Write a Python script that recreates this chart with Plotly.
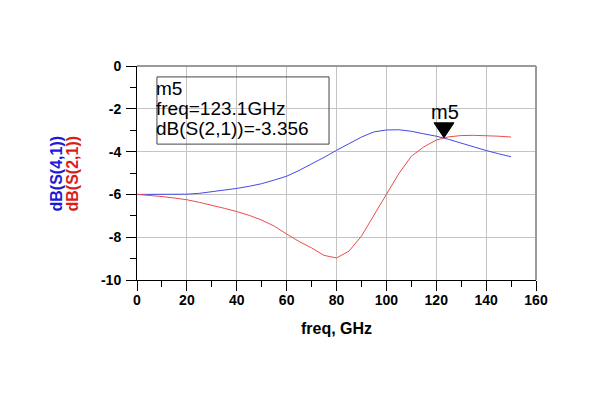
import plotly.graph_objects as go

freq = list(range(0, 155, 5))
s41_db = [-6.00, -6.00, -6.00, -6.00, -5.99, -5.95, -5.88, -5.80, -5.72, -5.62,
          -5.50, -5.33, -5.15, -4.88, -4.58, -4.27, -3.94, -3.62, -3.32, -3.08,
          -2.99, -2.98, -3.05, -3.17, -3.28, -3.43, -3.61, -3.78, -3.95, -4.10, -4.24]
s21_db = [-6.00, -6.04, -6.10, -6.17, -6.25, -6.37, -6.50, -6.65, -6.80, -6.98,
          -7.20, -7.48, -7.85, -8.20, -8.50, -8.85, -8.97, -8.65, -7.95, -7.00,
          -6.00, -5.03, -4.22, -3.78, -3.46, -3.31, -3.25, -3.24, -3.25, -3.28, -3.32]

marker_name = "m5"
marker_freq = 123.1
marker_val = -3.356

x_ticks = [0, 20, 40, 60, 80, 100, 120, 140, 160]
y_ticks = [0, -2, -4, -6, -8, -10]
y_ticklabels = ["0", "-2", "-4", "-6", "-8", "-10"]

BLUE_LINE = "#4848e6"
RED_LINE = "#ee4c4c"
BLUE_TXT = "#1a1ad8"
RED_TXT = "#dc1c1c"
FONT = "Liberation Sans, Arial, sans-serif"

fig = go.Figure()
fig.add_trace(go.Scatter(x=freq, y=s41_db, mode="lines",
                         line=dict(color=BLUE_LINE, width=1), name="dB(S(4,1))"))
fig.add_trace(go.Scatter(x=freq, y=s21_db, mode="lines",
                         line=dict(color=RED_LINE, width=1), name="dB(S(2,1))"))

axis_common = dict(
    showline=True, linecolor="black", linewidth=1,
    showgrid=True, gridcolor="#c4c4c4", gridwidth=1,
    zeroline=False,
    ticks="outside", ticklen=10, tickcolor="black", tickwidth=1,
    tickfont=dict(family=FONT, size=14, color="black", weight="bold"),
)

fig.update_layout(
    width=600, height=395,
    margin=dict(l=129, r=72, t=58, b=123),
    paper_bgcolor="white", plot_bgcolor="white",
    showlegend=False,
    xaxis=dict(range=[0, 160], tickvals=x_ticks, ticklabelstandoff=-3,
               minor=dict(dtick=10, ticklen=6, tickcolor="black", ticks="outside", showgrid=False),
               **axis_common),
    yaxis=dict(range=[-10, 0], tickvals=y_ticks, ticktext=y_ticklabels, ticklabelstandoff=2,
               minor=dict(dtick=1, ticklen=6, tickcolor="black", ticks="outside", showgrid=False),
               **axis_common),
)

# top and right frame (gray)
fig.add_shape(type="line", xref="paper", yref="paper", x0=0, x1=1, y0=1, y1=1,
              line=dict(color="#9a9a9a", width=2))
fig.add_shape(type="line", xref="paper", yref="paper", x0=1, x1=1, y0=0, y1=1,
              line=dict(color="#9a9a9a", width=2))

# marker readout box
fig.add_shape(type="rect", xref="x", yref="y", x0=8.0, x1=77.0, y0=-0.51, y1=-3.65,
              line=dict(color="#444444", width=1), fillcolor="rgba(0,0,0,0)")
box_lines = [marker_name, "freq=%.1fGHz" % marker_freq, "dB(S(2,1))=%.3f" % marker_val]
box_y = [-1.03, -2.0, -2.93]
for txt, yy in zip(box_lines, box_y):
    fig.add_annotation(x=7.4, y=yy, xref="x", yref="y", text=txt, showarrow=False,
                       xanchor="left", yanchor="middle", borderpad=0,
                       font=dict(family=FONT, size=19, color="black"))

# marker triangle and label
fig.add_shape(type="path", xref="x", yref="y", xsizemode="pixel", ysizemode="pixel",
              xanchor=marker_freq, yanchor=marker_val,
              path="M -10,15 L 10,15 L 0,0 Z",
              fillcolor="black", line=dict(color="black", width=1))
fig.add_annotation(x=marker_freq, y=marker_val, xref="x", yref="y", text=marker_name,
                   showarrow=False, xanchor="center", yanchor="middle", yshift=26, xshift=1,
                   font=dict(family=FONT, size=20, color="black"))

# y-axis titles
fig.add_annotation(x=0, y=0.5, xref="paper", yref="paper", xshift=-81.5, yshift=-1,
                   text="dB(S(4,1))", textangle=-90, showarrow=False,
                   xanchor="center", yanchor="middle",
                   font=dict(family=FONT, size=16, color=BLUE_TXT, weight="bold"))
fig.add_annotation(x=0, y=0.5, xref="paper", yref="paper", xshift=-65.5, yshift=-1,
                   text="dB(S(2,1))", textangle=-90, showarrow=False,
                   xanchor="center", yanchor="middle",
                   font=dict(family=FONT, size=16, color=RED_TXT, weight="bold"))

# x-axis title
fig.add_annotation(x=0.5, y=0, xref="paper", yref="paper", yshift=-48,
                   text="freq, GHz", showarrow=False, xanchor="center", yanchor="middle",
                   font=dict(family=FONT, size=16, color="black", weight="bold"))

fig.write_html("out.html")
